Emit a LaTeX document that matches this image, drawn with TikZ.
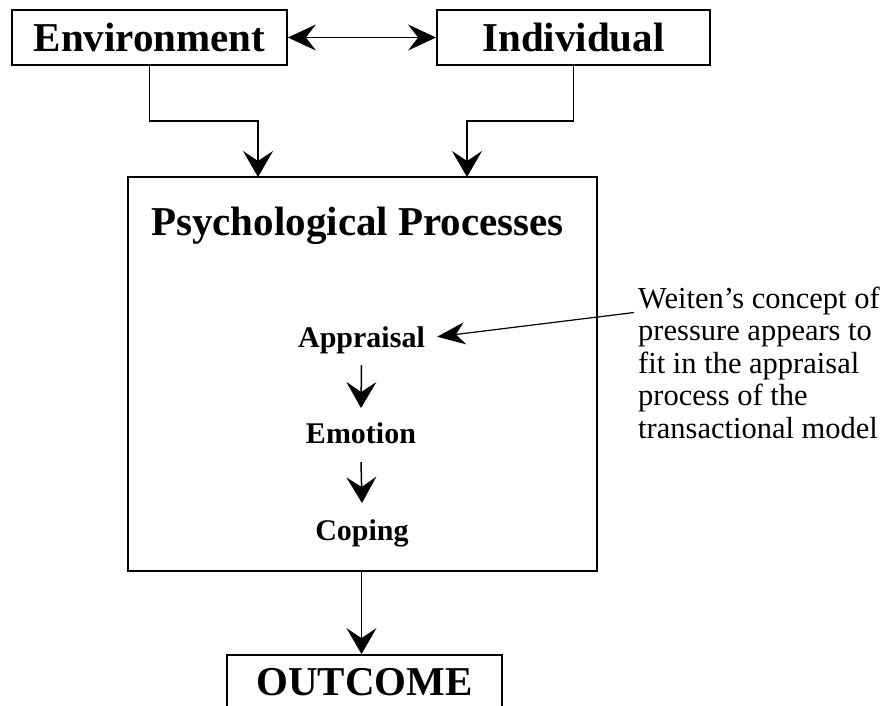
\documentclass[tikz,border=0pt]{standalone}
\usepackage{fontspec}
\setmainfont{Liberation Serif}
\usetikzlibrary{arrows.meta}
\begin{document}
\begin{tikzpicture}[x=1pt,y=-1pt,
  box/.style={draw, line width=1.8pt, inner sep=0pt},
  bigtext/.style={font=\fontsize{41}{44}\selectfont\bfseries},
  small/.style={font=\fontsize{30}{32}\selectfont\bfseries, inner sep=0pt},
  notetext/.style={font=\fontsize{30.5}{32.5}\selectfont, inner sep=0pt, align=left},
  conn/.style={line width=1.5pt, -{Stealth[length=26pt,width=30pt,inset=10pt]}},
  dbl/.style={line width=1.5pt, {Stealth[length=28pt,width=26pt,inset=10pt]}-{Stealth[length=28pt,width=26pt,inset=10pt]}},
  ann/.style={line width=1.2pt, -{Stealth[length=28pt,width=22pt,inset=9pt]}}
]
\useasboundingbox (0,0) rectangle (891,705);
\fill[white] (0,0) rectangle (891,705);
\clip (0,0) rectangle (891,705);
\node[box, bigtext, minimum width=275pt, minimum height=55pt] (env) at (149.5,37.5) {Environment};
\node[box, bigtext, minimum width=273pt, minimum height=55pt] (ind) at (573.5,37.5) {Individual};
\node[box, minimum width=469pt, minimum height=394pt] (proc) at (362.5,374) {};
\node[bigtext, inner sep=0pt, anchor=base] (title) at (357.5,235) {Psychological Processes};
\node[small, anchor=base] (app) at (361.5,347) {Appraisal};
\node[small, anchor=base] (emo) at (361,443) {Emotion};
\node[small, anchor=base] (cop) at (362,540) {Coping};
\node[box, bigtext, minimum width=275pt, minimum height=55pt] (out) at (364.5,682.5) {OUTCOME};
\node[notetext, anchor=north west] (wn) at (638,286.5) {Weiten’s concept of\\ pressure appears to\\ fit in the appraisal\\ process of the\\ transactional model};
\coordinate (envin) at (258,177);
\coordinate (indin) at (467,177);
\draw[dbl] (env.east) -- (ind.west);
\draw[conn] (env.south) -- ++(0,55) -| (envin);
\draw[conn] (ind.south) -- ++(0,55) -| (indin);
\draw[conn] (proc.south -| app.south) -- (out.north -| app.south);
\draw[conn] ([yshift=-18pt]app.base) -- ([yshift=35pt]emo.base);
\draw[conn] ([yshift=-19pt]emo.base) -- ([yshift=37pt]cop.base);
\draw[ann] ([xshift=-4pt,yshift=-26pt]wn.north west) -- ([xshift=12pt,yshift=3pt]app.east);
\end{tikzpicture}
\end{document}
